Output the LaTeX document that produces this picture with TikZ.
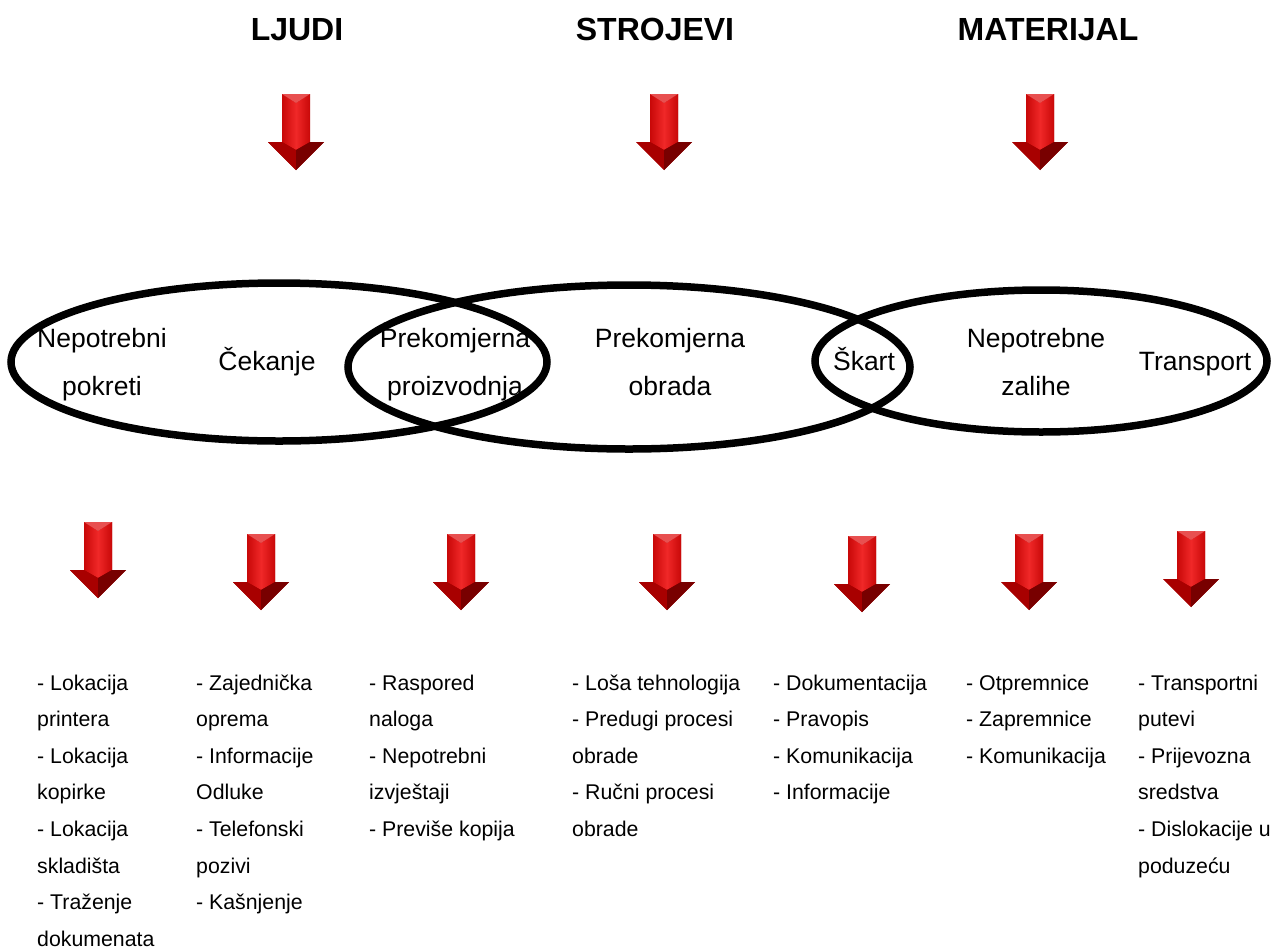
\documentclass[tikz,border=0pt]{standalone}
\usepackage{fontspec}
\setmainfont{Liberation Sans}
\definecolor{rA}{HTML}{F02828}
\definecolor{rB}{HTML}{C80808}
\definecolor{rC}{HTML}{A80000}
\definecolor{rD}{HTML}{780000}
\definecolor{rE}{HTML}{E85050}
\begin{document}
\begin{tikzpicture}[x=1pt,y=-1pt,
  title/.style={font=\fontsize{32}{38}\selectfont\bfseries, anchor=base, inner sep=0},
  etext/.style={font=\fontsize{26.5}{32}\selectfont, anchor=base, inner sep=0},
  ltext/.style={font=\fontsize{21.3}{25}\selectfont, anchor=base west, inner sep=0},
  ring/.style={line width=7.5pt, draw=black},
  redarrow/.pic={
    \fill[rC] (-14,0) -- (14,0) -- (14,48) -- (28,48) -- (0,76) -- (-28,48) -- (-14,48) -- cycle;
    \shade[left color=rB, right color=rA] (-14,0) -- (0,9) -- (0,56) -- (-14,48) -- cycle;
    \shade[left color=rA, right color=rB] (14,0) -- (0,9) -- (0,56) -- (14,48) -- cycle;
    \fill[rE] (-14,0) -- (14,0) -- (0,9) -- cycle;
    \fill[rC] (-28,48) -- (-14,48) -- (0,56) -- (0,76) -- cycle;
    \fill[rD] (28,48) -- (14,48) -- (0,56) -- (0,76) -- cycle;
  }]
\useasboundingbox (0,0) rectangle (1272,951);

% titles
\node[title] (tLj) at (297,40) {LJUDI};
\node[title] (tSt) at (655,40) {STROJEVI};
\node[title] (tMa) at (1048,40) {MATERIJAL};

% top arrows
\pic (aT1) at (296,94) {redarrow};
\pic (aT2) at (664,94) {redarrow};
\pic (aT3) at (1040,94) {redarrow};

% ellipses
\draw[ring] (279,362) ellipse [x radius=268, y radius=79];
\draw[ring] (629,367) ellipse [x radius=281, y radius=82];
\draw[ring] (1041,361) ellipse [x radius=226, y radius=71];

% ellipse texts
\node[etext] (e1a) at (102,347) {Nepotrebni};
\node[etext] (e1b) at (102,395) {pokreti};
\node[etext] (e2) at (267,370) {Čekanje};
\node[etext] (e3a) at (455,347) {Prekomjerna};
\node[etext] (e3b) at (455,395) {proizvodnja};
\node[etext] (e4a) at (670,347) {Prekomjerna};
\node[etext] (e4b) at (670,395) {obrada};
\node[etext] (e5) at (864,370) {Škart};
\node[etext] (e6a) at (1036,347) {Nepotrebne};
\node[etext] (e6b) at (1036,395) {zalihe};
\node[etext] (e7) at (1195,370) {Transport};

% bottom arrows
\pic (aB1) at (98,522) {redarrow};
\pic (aB2) at (261,534) {redarrow};
\pic (aB3) at (461,534) {redarrow};
\pic (aB4) at (667,534) {redarrow};
\pic (aB5) at (862,536) {redarrow};
\pic (aB6) at (1029,534) {redarrow};
\pic (aB7) at (1191,531) {redarrow};

% lists
\foreach \t [count=\i] in {- Lokacija, printera, - Lokacija, kopirke, - Lokacija, skladišta, - Traženje, dokumenata}
  \node[ltext] (lA\i) at (37,{690+36.6*(\i-1)}) {\t};
\foreach \t [count=\i] in {- Zajednička, oprema, - Informacije, Odluke, - Telefonski, pozivi, - Kašnjenje}
  \node[ltext] (lB\i) at (196,{690+36.6*(\i-1)}) {\t};
\foreach \t [count=\i] in {- Raspored, naloga, - Nepotrebni, izvještaji, - Previše kopija}
  \node[ltext] (lC\i) at (369,{690+36.6*(\i-1)}) {\t};
\foreach \t [count=\i] in {- Loša tehnologija, - Predugi procesi, obrade, - Ručni procesi, obrade}
  \node[ltext] (lD\i) at (572,{690+36.6*(\i-1)}) {\t};
\foreach \t [count=\i] in {- Dokumentacija, - Pravopis, - Komunikacija, - Informacije}
  \node[ltext] (lE\i) at (773,{690+36.6*(\i-1)}) {\t};
\foreach \t [count=\i] in {- Otpremnice, - Zapremnice, - Komunikacija}
  \node[ltext] (lF\i) at (966,{690+36.6*(\i-1)}) {\t};
\foreach \t [count=\i] in {- Transportni, putevi, - Prijevozna, sredstva, - Dislokacije u, poduzeću}
  \node[ltext] (lG\i) at (1138,{690+36.6*(\i-1)}) {\t};
\end{tikzpicture}
\end{document}
